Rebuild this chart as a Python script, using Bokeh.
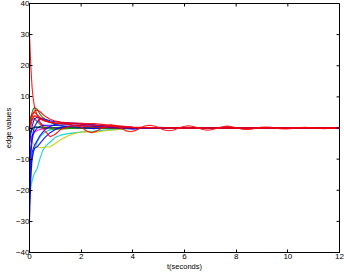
from bokeh.plotting import figure
from bokeh.models import FixedTicker
from bokeh.embed import file_html
from bokeh.resources import INLINE

# shared time grid for the transient curves
t_grid = [0, 0.05, 0.1, 0.15, 0.2, 0.3, 0.4, 0.5, 0.6, 0.8, 1.0, 1.2, 1.5, 1.8, 2.1, 2.5,
          3.0, 4.0, 5.0, 6.0, 8.0, 10.0, 12.0]

red_a = [30, 20, 13, 9, 6.5, 4, 3, 2.5, 2.2, 1.9, 1.7, 1.6, 1.5, 1.3, 1.1, 0.9, 0.6, 0.2, 0.1, 0, 0, 0, 0]
red_b = [0, 2, 3.5, 4.8, 5.5, 5.8, 5.3, 4.5, 3.8, 2.8, 2.2, 1.9, 1.7, 1.6, 1.5, 1.4, 1.0, 0.3, 0.1, 0, 0, 0, 0]
red_c = [-1, 0.5, 2.5, 3.5, 4.0, 3.5, 2.0, 0.5, -1.0, -2.8, -2.0, -0.5, 0.5, 0.8, 0.6, 0.3, 0.1, 0, 0, 0, 0, 0, 0]
blue_a = [-30, -14, -8, -6.5, -5.5, -4, -2.5, -1.5, -0.5, 0.5, 1.2, 1.5, 1.6, 1.5, 1.3, 1.0, 0.6, 0.2, 0, 0, 0, 0, 0]
blue_b = [-25, -16, -10, -7.5, -6.5, -6.0, -5.0, -4.0, -3.0, -1.5, -0.5, 0.2, 0.6, 0.8, 0.7, 0.5, 0.3, 0.1, 0, 0, 0, 0, 0]
blue_c = [-12, -6, -3, -1, 0.5, 2, 2.8, 3, 2.8, 2.3, 2, 1.8, 1.6, 1.4, 1.2, 0.9, 0.5, 0.1, 0, 0, 0, 0, 0]
blue_d = [-5, -2, 0.5, 2, 3, 3.5, 3.2, 2.8, 2.4, 1.8, 1.5, 1.3, 1.1, 0.9, 0.7, 0.5, 0.2, -0.2, 0.1, 0, 0, 0, 0]
blue_e = [-20, -9, -4, -2, -1, 0, 0.5, 0.8, 0.9, 0.9, 0.8, 0.7, 0.5, 0.3, 0.1, -0.2, 0.4, -0.3, 0.2, -0.1, 0, 0, 0]
green_a = [0, 3, 5, 6.2, 6.5, 6, 4.5, 3.5, 2.8, 1.8, 1.2, 0.8, 0.4, 0.2, 0.0, -0.1, 0, 0, 0, 0, 0, 0, 0]
green_b = [-3, -1.5, -0.5, 0, 0.2, 0.3, 0.3, 0.2, 0.2, 0.1, 0.1, 0, 0, 0, 0, 0, 0, 0, 0, 0, 0, 0, 0]
green_c = [1, 3.5, 4, 3.5, 3, 2, 1.2, 0.6, 0.2, -0.3, -0.5, -0.4, -0.2, 0, 0, 0, 0, 0, 0, 0, 0, 0, 0]
cyan_a = [-22, -19, -17, -15.5, -14.5, -13, -10, -7.5, -6, -4.5, -3, -2.3, -1.8, -1.5, -1.2, -1.0, -0.6, -0.2, 0, 0, 0, 0, 0]
cyan_b = [-14, -12, -10, -8, -6.5, -4.5, -3.0, -2.0, -1.3, -0.6, -0.3, -0.1, 0, 0, 0, 0, 0, 0, 0, 0, 0, 0, 0]
yellow_a = [-2, -3, -4, -5, -5.5, -6, -6.2, -6.3, -6.2, -6, -5, -3.8, -2.5, -1.6, -1.2, -1.4, -0.8, -0.1, 0, 0, 0, 0, 0]
magenta_a = [2, 2.3, 2.8, 3, 2.8, 2.3, 1.6, 1.1, 0.7, 0.3, 0.1, 0, 0, 0, 0, 0, 0, 0, 0, 0, 0, 0, 0]
magenta_b = [-5, -3.5, -2.5, -1.8, -1.3, -0.8, -0.5, -0.3, -0.2, 0, 0, 0, 0, 0, 0, 0, 0, 0, 0, 0, 0, 0, 0]
black_a = [-2, -1, -0.2, 0.2, 0.3, 0.2, 0.1, 0, 0, 0, 0, 0, 0, 0, 0, 0, 0, 0, 0, 0, 0, 0, 0]

# the slowly decaying oscillating red edge
t_red_osc = [0, 0.1, 0.2, 0.4, 0.7, 1.0, 1.5, 2.0, 2.2, 2.4, 2.6, 2.8, 2.97, 3.15, 3.34, 3.53,
             3.71, 3.9, 4.09, 4.28, 4.46, 4.65, 4.84, 5.03, 5.21, 5.4, 5.59, 5.78, 5.96, 6.15,
             6.34, 6.53, 6.71, 6.9, 7.09, 7.28, 7.46, 7.65, 7.84, 8.03, 8.21, 8.4, 8.59, 8.78,
             8.96, 9.15, 9.34, 9.53, 9.71, 9.9, 10.09, 10.28, 10.65, 11.03, 11.4, 11.78, 12.0]
red_osc = [3, 4.5, 5, 3.5, 2, 1.5, 1.2, 0.3, -0.9, -1.5, -1.0, 0, 0.7, 1.0, 0.7, 0,
           -0.85, -1.2, -0.85, 0, 0.65, 0.9, 0.65, 0, -0.65, -0.9, -0.65, 0, 0.5, 0.7,
           0.5, 0, -0.5, -0.7, -0.5, 0, 0.42, 0.6, 0.42, 0, -0.35, -0.5, -0.35, 0,
           0.2, 0.3, 0.2, 0, -0.2, -0.3, -0.2, 0, 0.25, 0, -0.2, 0, 0.1]

x_ticks = [0, 2, 4, 6, 8, 10, 12]
y_ticks = [-40, -30, -20, -10, 0, 10, 20, 30, 40]
x_label = "t(seconds)"
y_label = "edge values"
X_MIN, X_MAX, Y_MIN, Y_MAX = 0, 12, -40, 40

RED, BLUE, GREEN, LGREEN = "#ff0000", "#0000ff", "#008000", "#40b000"
CYAN, YELLOW, MAGENTA, BLACK = "#00d0d0", "#c8c800", "#ff00ff", "#000000"

series = [
    (t_grid, cyan_a, CYAN), (t_grid, cyan_b, CYAN), (t_grid, yellow_a, YELLOW),
    (t_grid, magenta_a, MAGENTA), (t_grid, magenta_b, MAGENTA), (t_grid, black_a, BLACK),
    (t_grid, green_c, LGREEN), (t_grid, green_b, GREEN), (t_grid, green_a, GREEN),
    (t_grid, blue_a, BLUE), (t_grid, blue_b, BLUE), (t_grid, blue_c, BLUE),
    (t_grid, blue_d, BLUE), (t_grid, blue_e, BLUE),
    (t_grid, red_c, RED), (t_grid, red_b, RED), (t_red_osc, red_osc, RED),
    (t_grid, red_a, RED),
]

FONT = "Liberation Sans"

p = figure(width=344, height=273, x_range=(X_MIN, X_MAX), y_range=(Y_MIN, Y_MAX),
           output_backend="svg", toolbar_location=None,
           min_border_left=0, min_border_right=5, min_border_top=3, min_border_bottom=0)
p.grid.visible = False
p.outline_line_color = BLACK
p.outline_line_width = 1
p.background_fill_color = "white"
p.border_fill_color = "white"

for xs, ys, c in series:
    p.line(xs, ys, line_color=c, line_width=1.1, line_alpha=0.9)

def style(ax, ticks):
    ax.ticker = FixedTicker(ticks=ticks)
    ax.major_tick_in = 3
    ax.major_tick_out = 0
    ax.minor_tick_line_color = None
    ax.axis_line_color = BLACK
    ax.major_tick_line_color = BLACK
    ax.major_label_text_font = FONT
    ax.major_label_text_color = BLACK
    ax.major_label_text_font_size = "8px"
    ax.major_label_standoff = 0
    ax.axis_label_text_font = FONT
    ax.axis_label_text_font_style = "normal"
    ax.axis_label_text_font_size = "7.5px"
    ax.axis_label_text_color = BLACK
    ax.axis_label_standoff = 0

style(p.xaxis[0], x_ticks)
style(p.yaxis[0], y_ticks)
p.xaxis[0].major_label_standoff = 1
p.xaxis[0].axis_label = x_label
p.yaxis[0].axis_label = y_label

# inward ticks on the top and right edges of the box (MATLAB style)
tick_dy = (Y_MAX - Y_MIN) * 0.012
tick_dx = (X_MAX - X_MIN) * 0.0095
p.segment(x0=x_ticks, y0=[Y_MAX] * len(x_ticks), x1=x_ticks, y1=[Y_MAX - tick_dy] * len(x_ticks),
          line_color=BLACK, line_width=1)
p.segment(x0=[X_MAX] * len(y_ticks), y0=y_ticks, x1=[X_MAX - tick_dx] * len(y_ticks), y1=y_ticks,
          line_color=BLACK, line_width=1)

open("out.html", "w").write(file_html(p, INLINE))
